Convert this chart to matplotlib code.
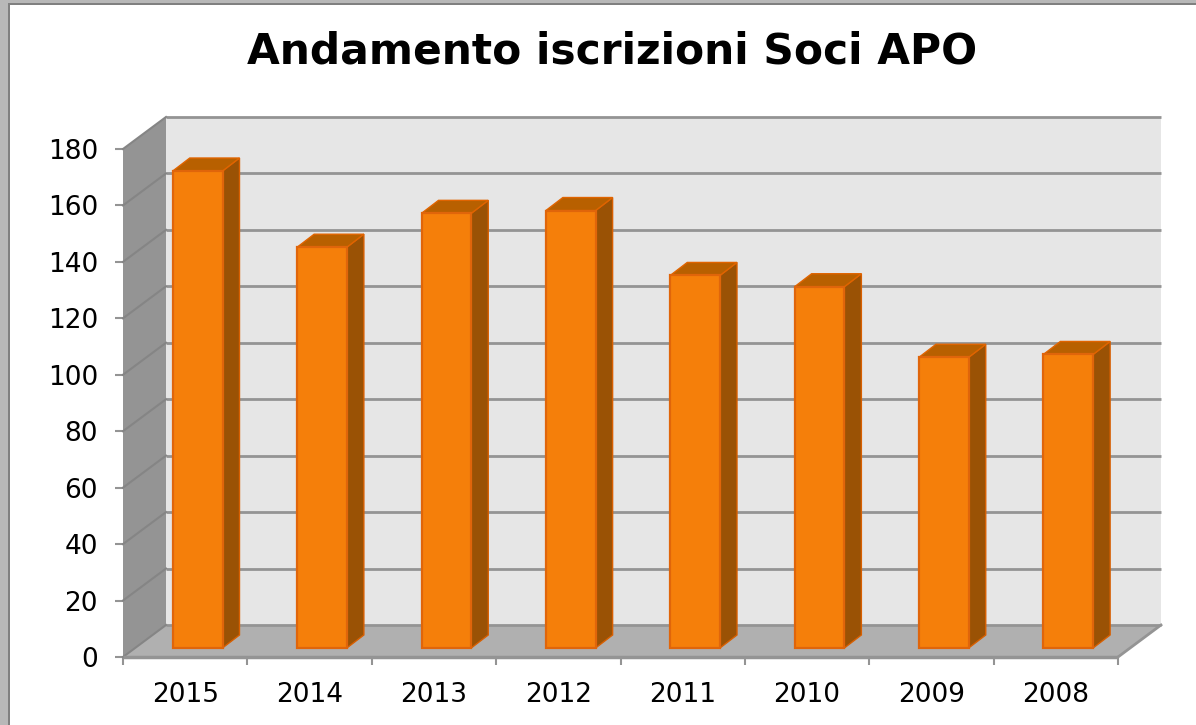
import matplotlib
matplotlib.use("Agg")
import matplotlib.pyplot as plt
from matplotlib.patches import Polygon, Rectangle
import numpy as np

anni = ["2015", "2014", "2013", "2012", "2011", "2010", "2009", "2008"]
soci = [169, 142, 154, 155, 132, 128, 103, 104]
tick_y = [0, 20, 40, 60, 80, 100, 120, 140, 160, 180]

W, H = 1196, 725
fig = plt.figure(figsize=(W / 100, H / 100), dpi=100, facecolor="white")

# cornice grigia in alto e a sinistra
fig.patches.append(Rectangle((0, 0), 8 / W, 1, transform=fig.transFigure, color="#b8b8b8", lw=0))
fig.patches.append(Rectangle((0, 1 - 3 / H), 1, 3 / H, transform=fig.transFigure, color="#b8b8b8", lw=0))
fig.patches.append(Rectangle((8 / W, 0), 2 / W, 1 - 3 / H, transform=fig.transFigure, color="#808080", lw=0))
fig.patches.append(Rectangle((8 / W, 1 - 5 / H), 1, 2 / H, transform=fig.transFigure, color="#808080", lw=0))

# piano frontale: 0-180 da y=657 a y=149, categorie da x=123 a x=1118
left, right, bottom, top = 123, 1118, 657, 149
ax = fig.add_axes([left / W, 1 - bottom / H, (right - left) / W, (bottom - top) / H])
ax.set_xlim(0, len(anni))
ax.set_ylim(0, 180)
ax.patch.set_visible(False)

px_x = (right - left) / len(anni)
px_y = (bottom - top) / 180
dx = 43 / px_x  # profondita del grafico
dy = 32 / px_y
n = len(anni)

# pareti e pavimento
ax.add_patch(Polygon([(dx, dy), (n + dx, dy), (n + dx, 180 + dy), (dx, 180 + dy)],
                     fc="#e6e6e6", ec="none", clip_on=False, zorder=1))
ax.add_patch(Polygon([(0, 0), (dx, dy), (dx, 180 + dy), (0, 180)],
                     fc="#949494", ec="none", clip_on=False, zorder=1))
ax.add_patch(Polygon([(0, 0), (n, 0), (n + dx, dy), (dx, dy)],
                     fc="#b0b0b0", ec="none", clip_on=False, zorder=1))

# griglia sul fondo e sulla parete sinistra
for v in tick_y:
    ax.plot([dx, n + dx], [v + dy, v + dy], color="#949494", lw=2, clip_on=False, zorder=2,
            solid_capstyle="butt")
    ax.plot([0, dx], [v, v + dy], color="#858585", lw=1.5, clip_on=False, zorder=2)
ax.plot([n, n + dx], [0, dy], color="#949494", lw=2, clip_on=False, zorder=2)
ax.plot([0, n], [0, 0], color="#949494", lw=2.5, clip_on=False, zorder=2, solid_capstyle="butt")

# barre
x = np.arange(n) + 0.6
larg = 0.4
base = 3.2
bx = 17 / px_x
by = 13 / px_y
ax.bar(x, soci, width=larg, bottom=base, color="#f57f0a", edgecolor="#e0650a", linewidth=1.6,
       zorder=5, clip_on=False)
for xc, v in zip(x, soci):
    x0, x1 = xc - larg / 2, xc + larg / 2
    y1 = base + v
    ax.add_patch(Polygon([(x1, base), (x1 + bx, base + by), (x1 + bx, y1 + by), (x1, y1)],
                         fc="#9a5205", ec="#d85f00", lw=1, clip_on=False, zorder=4))
    ax.add_patch(Polygon([(x0, y1), (x1, y1), (x1 + bx, y1 + by), (x0 + bx, y1 + by)],
                         fc="#b86000", ec="#e06400", lw=1, clip_on=False, zorder=4))

# assi
for s in ax.spines.values():
    s.set_visible(False)
ax.set_yticks(tick_y)
ax.set_xticks(np.arange(n + 1))
ax.set_xticklabels([])
ax.set_xticks(np.arange(n) + 0.5, minor=True)
ax.set_xticklabels(anni, minor=True)
ax.tick_params(axis="x", which="major", length=6, width=1.5, color="#949494")
ax.tick_params(axis="x", which="minor", length=0, labelsize=19, pad=18)
ax.tick_params(axis="y", length=6, width=1.5, color="#949494", labelsize=19, pad=12)

fig.text(612 / W, 1 - 51 / H, "Andamento iscrizioni Soci APO", ha="center", va="center",
         fontsize=30.5, fontweight="bold", color="black")

fig.savefig("out.png", dpi=100)
